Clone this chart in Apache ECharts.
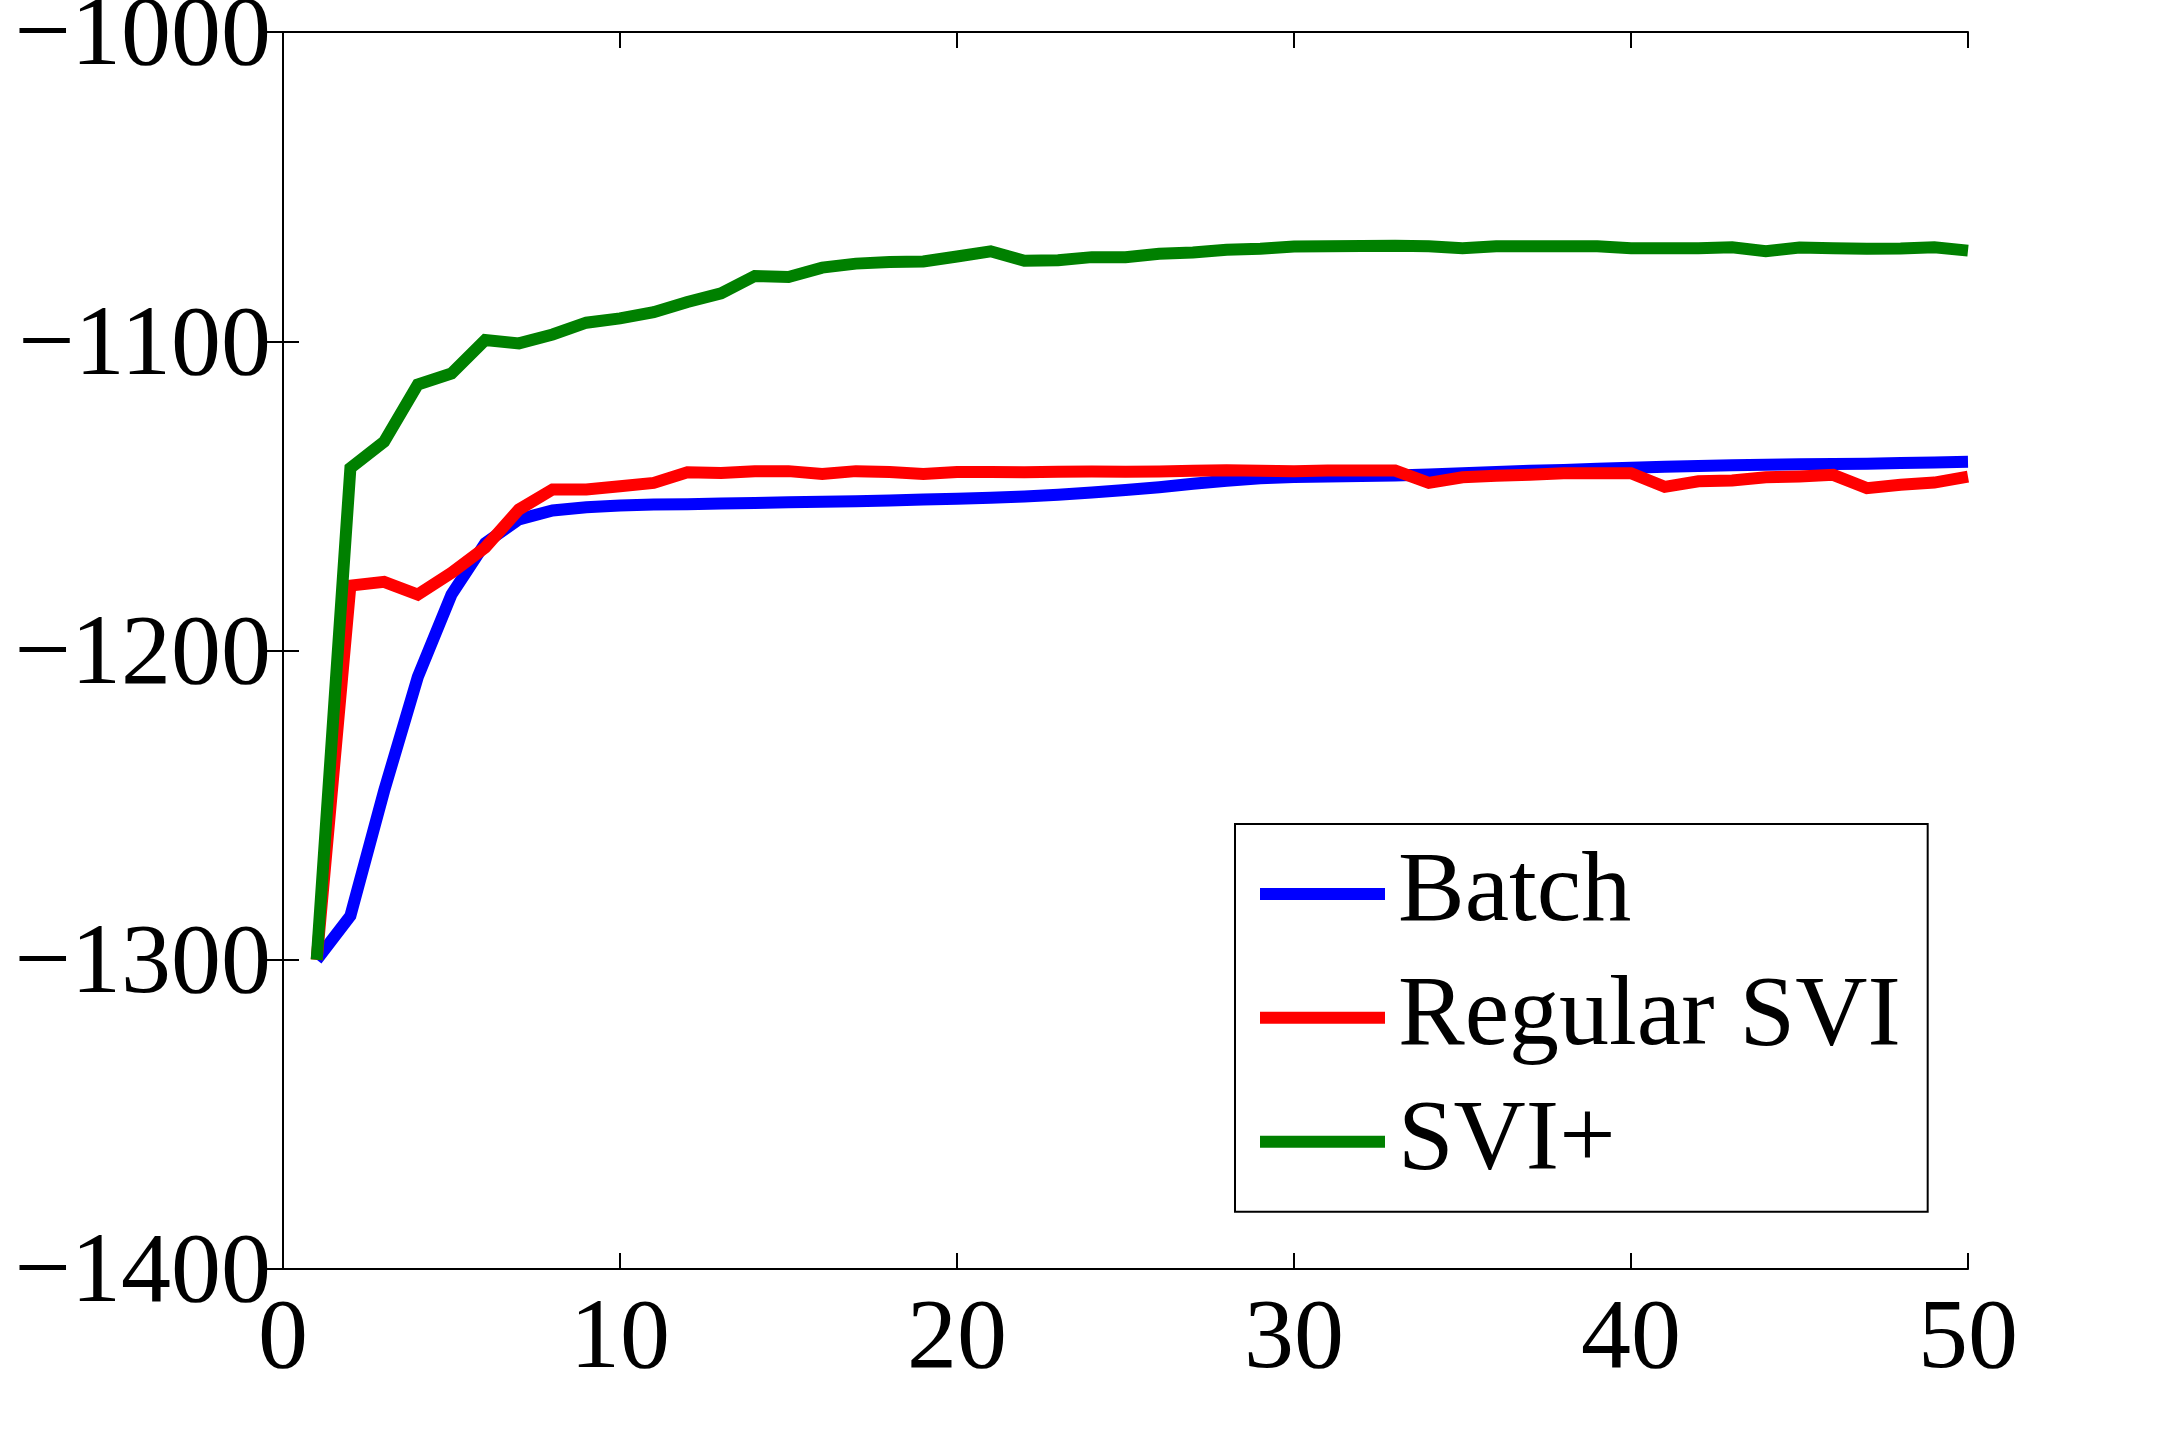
<!DOCTYPE html>
<html>
<head>
<meta charset="utf-8">
<script src="https://cdn.jsdelivr.net/npm/echarts@6/dist/echarts.min.js"></script>
<style>
html,body{margin:0;padding:0;background:#fff;}
#main{width:2175px;height:1437px;}
</style>
</head>
<body>
<div id="main"></div>
<script>
const iterations = [1,2,3,4,5,6,7,8,9,10,11,12,13,14,15,16,17,18,19,20,21,22,23,24,25,26,27,28,29,30,31,32,33,34,35,36,37,38,39,40,41,42,43,44,45,46,47,48,49,50];
const batch = [-1300,-1285.8,-1245.4,-1208.6,-1181.9,-1165.3,-1157.6,-1154.7,-1153.7,-1153.1,-1152.8,-1152.7,-1152.5,-1152.3,-1152.1,-1151.9,-1151.7,-1151.5,-1151.2,-1150.9,-1150.6,-1150.2,-1149.6,-1148.9,-1148.1,-1147.2,-1146.1,-1145.1,-1144.3,-1143.9,-1143.7,-1143.6,-1143.4,-1143.1,-1142.7,-1142.3,-1141.9,-1141.6,-1141.2,-1140.9,-1140.6,-1140.3,-1140.1,-1139.9,-1139.8,-1139.7,-1139.6,-1139.4,-1139.2,-1139.0];
const regularSVI = [-1300,-1179,-1177.8,-1181.9,-1174.9,-1166.7,-1154.4,-1147.9,-1147.9,-1146.9,-1145.8,-1142.4,-1142.6,-1142.0,-1142.0,-1142.9,-1142.0,-1142.3,-1142.9,-1142.3,-1142.3,-1142.4,-1142.2,-1142.1,-1142.2,-1142.1,-1141.9,-1141.7,-1141.9,-1142.0,-1141.8,-1141.8,-1141.8,-1145.8,-1144.0,-1143.5,-1143.2,-1142.7,-1142.7,-1142.7,-1147.1,-1145.3,-1145.0,-1144.0,-1143.7,-1143.2,-1147.5,-1146.4,-1145.7,-1143.8];
const sviPlus = [-1300,-1141,-1132.5,-1114,-1110.4,-1099.6,-1100.7,-1097.8,-1094,-1092.6,-1090.6,-1087.3,-1084.5,-1078.9,-1079.2,-1076.2,-1074.9,-1074.4,-1074.2,-1072.6,-1070.9,-1074,-1073.8,-1072.8,-1072.8,-1071.7,-1071.3,-1070.4,-1070.1,-1069.4,-1069.3,-1069.2,-1069.1,-1069.3,-1069.9,-1069.3,-1069.3,-1069.3,-1069.3,-1069.9,-1069.9,-1069.9,-1069.6,-1070.9,-1069.7,-1069.9,-1070.1,-1070.0,-1069.6,-1070.7];
const seriesNames = ['Batch','Regular SVI','SVI+'];
const seriesColors = ['#0000ff','#ff0000','#008000'];
const xTicks = {min:0, max:50, interval:10};
const yTicks = {min:-1400, max:-1000, interval:100};

const FONT = 'Liberation Serif';
function pairs(vals){ return iterations.map((x,i)=>[x, vals[i]]); }
const allVals = [batch, regularSVI, sviPlus];

const chart = echarts.init(document.getElementById('main'), null, {renderer:'canvas'});
const axisLineStyle = {show:true, lineStyle:{color:'#000', width:2}};
const tickStyle = {show:true, inside:true, length:16, lineStyle:{color:'#000', width:2}};
chart.setOption({
  backgroundColor:'#fff',
  animation:false,
  grid:{left:283, right:207, top:32, bottom:168, containLabel:false, outerBoundsMode:'none'},
  legend:{
    orient:'vertical',
    left:1235, top:824,
    padding:[20,27,20,25],
    itemWidth:125, itemHeight:12,
    itemGap:23.85,
    borderColor:'#000', borderWidth:2,
    backgroundColor:'#fff',
    icon:'rect',
    data:seriesNames,
    textStyle:{fontFamily:FONT, fontSize:100, color:'#000', lineHeight:100, padding:[0,0,0,8]}
  },
  xAxis:[
    {type:'value', min:xTicks.min, max:xTicks.max, interval:xTicks.interval, position:'bottom',
     axisLine:axisLineStyle, axisTick:tickStyle, splitLine:{show:false},
     axisLabel:{fontFamily:FONT, fontSize:100, color:'#000', margin:22}},
    {type:'value', min:xTicks.min, max:xTicks.max, interval:xTicks.interval, position:'top',
     axisLine:axisLineStyle, axisTick:tickStyle, splitLine:{show:false}, axisLabel:{show:false}}
  ],
  yAxis:[
    {type:'value', min:yTicks.min, max:yTicks.max, interval:yTicks.interval, position:'left',
     axisLine:axisLineStyle, axisTick:tickStyle, splitLine:{show:false},
     axisLabel:{fontFamily:FONT, fontSize:100, color:'#000', margin:12,
       verticalAlign:'top', lineHeight:12,
       formatter:v=>String(v).replace('-', '\u2212')}},
    {type:'value', min:yTicks.min, max:yTicks.max, interval:yTicks.interval, position:'right',
     axisLine:axisLineStyle, axisTick:tickStyle, splitLine:{show:false}, axisLabel:{show:false}}
  ],
  series: seriesNames.map((n,k)=>({
    name:n, type:'line', data:pairs(allVals[k]), showSymbol:false, symbol:'none',
    lineStyle:{color:seriesColors[k], width:12, join:'miter'}, itemStyle:{color:seriesColors[k]},
    xAxisIndex:0, yAxisIndex:0, z:2+k
  }))
});
</script>
</body>
</html>
